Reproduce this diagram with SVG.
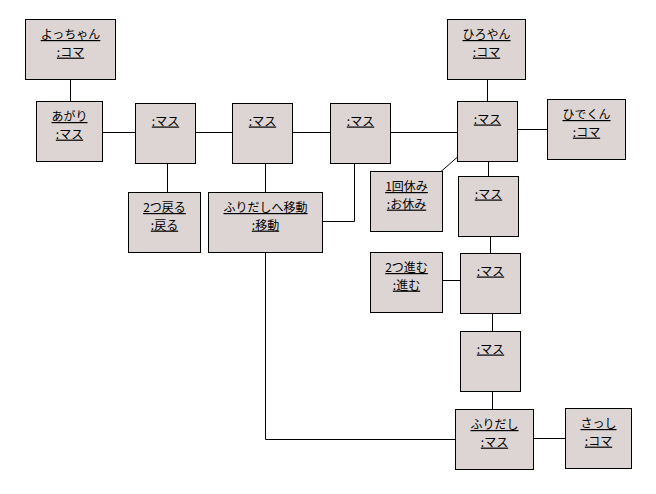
<svg xmlns="http://www.w3.org/2000/svg" width="656" height="494" viewBox="0 0 656 494">
<style>
.n rect{fill:#ddd5d3;stroke:#000;stroke-width:1}
.n text{font-family:"Noto Sans CJK JP","Noto Sans CJK SC",sans-serif;font-size:12px;fill:#000;text-anchor:middle;text-decoration:underline}
#edges line,#edges polyline{stroke:#000;stroke-width:1;fill:none}
</style>
<rect width="656" height="494" fill="#fff"/>
<g id="edges">
<line x1="70.5" y1="79.5" x2="70.5" y2="101.5"/>
<line x1="102.5" y1="132.5" x2="135.5" y2="132.5"/>
<line x1="195.5" y1="132.5" x2="232.5" y2="132.5"/>
<line x1="292.5" y1="132.5" x2="330.5" y2="132.5"/>
<line x1="390.5" y1="132.5" x2="457.5" y2="132.5"/>
<line x1="487.5" y1="79.5" x2="487.5" y2="101.5"/>
<line x1="517.5" y1="129.5" x2="547.5" y2="129.5"/>
<line x1="457.5" y1="157" x2="441" y2="171.5" stroke-width="0.8"/>
<line x1="488.5" y1="161.5" x2="488.5" y2="176.5"/>
<line x1="490.5" y1="236.5" x2="490.5" y2="253.5"/>
<line x1="442.5" y1="280.5" x2="460.5" y2="280.5"/>
<line x1="492.5" y1="313.5" x2="492.5" y2="331.5"/>
<line x1="492.5" y1="391.5" x2="492.5" y2="409.5"/>
<line x1="533.5" y1="438.5" x2="565.5" y2="438.5"/>
<line x1="167.5" y1="163.5" x2="167.5" y2="192.5"/>
<line x1="265.5" y1="163.5" x2="265.5" y2="192.5"/>
<polyline points="322.5,221.5 354.5,221.5 354.5,163.5"/>
<polyline points="265.5,252.5 265.5,439.5 455.5,439.5"/>
</g>
<g id="yocchan" class="n"><rect x="25.5" y="19.5" width="90" height="60"/><text x="70.5" y="39">よっちゃん</text><text x="70.5" y="56.6">:コマ</text></g>
<g id="agari" class="n"><rect x="36.5" y="101.5" width="66" height="60"/><text x="69.5" y="121">あがり</text><text x="69.5" y="138.6">:マス</text></g>
<g id="masu1" class="n"><rect x="135.5" y="103.5" width="60" height="60"/><text x="165.5" y="125.5">:マス</text></g>
<g id="masu2" class="n"><rect x="232.5" y="103.5" width="60" height="60"/><text x="262.5" y="125.5">:マス</text></g>
<g id="masu3" class="n"><rect x="330.5" y="103.5" width="60" height="60"/><text x="360.5" y="125.5">:マス</text></g>
<g id="modoru" class="n"><rect x="128.5" y="192.5" width="72" height="60"/><text x="164.5" y="212">2つ戻る</text><text x="164.5" y="229.6">:戻る</text></g>
<g id="idou" class="n"><rect x="208.5" y="192.5" width="114" height="60"/><text x="265.5" y="212">ふりだしへ移動</text><text x="265.5" y="229.6">:移動</text></g>
<g id="hiroyan" class="n"><rect x="447.5" y="19.5" width="78" height="60"/><text x="486.5" y="39">ひろやん</text><text x="486.5" y="56.6">:コマ</text></g>
<g id="hub" class="n"><rect x="457.5" y="101.5" width="60" height="60"/><text x="487.5" y="123.5">:マス</text></g>
<g id="hidekun" class="n"><rect x="547.5" y="99.5" width="78" height="60"/><text x="586.5" y="119">ひでくん</text><text x="586.5" y="136.6">:コマ</text></g>
<g id="yasumi" class="n"><rect x="370.5" y="171.5" width="72" height="60"/><text x="406.5" y="191">1回休み</text><text x="406.5" y="208.6">:お休み</text></g>
<g id="masu4" class="n"><rect x="458.5" y="176.5" width="60" height="60"/><text x="488.5" y="198.5">:マス</text></g>
<g id="susumu" class="n"><rect x="370.5" y="252.5" width="72" height="60"/><text x="406.5" y="272">2つ進む</text><text x="406.5" y="289.6">:進む</text></g>
<g id="masu5" class="n"><rect x="460.5" y="253.5" width="60" height="60"/><text x="490.5" y="275.5">:マス</text></g>
<g id="masu6" class="n"><rect x="460.5" y="331.5" width="60" height="60"/><text x="490.5" y="353.5">:マス</text></g>
<g id="furidashi" class="n"><rect x="455.5" y="409.5" width="78" height="60"/><text x="494.5" y="429">ふりだし</text><text x="494.5" y="446.6">:マス</text></g>
<g id="sasshi" class="n"><rect x="565.5" y="408.5" width="66" height="60"/><text x="598.5" y="428">さっし</text><text x="598.5" y="445.6">:コマ</text></g>
</svg>
